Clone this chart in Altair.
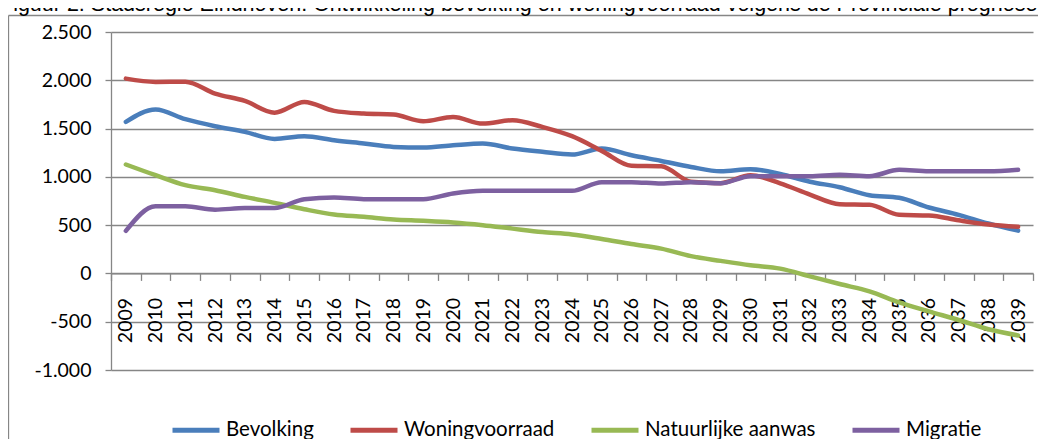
import altair as alt
import pandas as pd

# ---- data ----
years = [str(y) for y in range(2009, 2040)]
bevolking = [1569, 1697, 1597, 1524, 1466, 1393, 1421, 1379, 1345, 1310, 1303,
             1327, 1345, 1293, 1259, 1231, 1293, 1224, 1165, 1103, 1058, 1080,
             1030, 950, 893, 810, 783, 683, 607, 517, 443]
woningvoorraad = [2017, 1983, 1985, 1862, 1786, 1665, 1776, 1683, 1655, 1645, 1576,
                  1620, 1552, 1586, 1517, 1421, 1269, 1115, 1110, 950, 935, 1017,
                  933, 817, 717, 710, 607, 600, 550, 507, 483]
natuurlijke_aanwas = [1128, 1017, 914, 862, 793, 731, 665, 610, 586, 558, 545,
                      528, 500, 464, 429, 404, 357, 304, 257, 179, 130, 85,
                      50, -30, -110, -185, -300, -393, -482, -578, -642]
migratie = [441, 695, 695, 660, 677, 677, 769, 786, 769, 769, 769,
            828, 855, 855, 855, 855, 945, 945, 931, 945, 933, 1007,
            1007, 1007, 1023, 1007, 1073, 1057, 1057, 1057, 1073]

series_names = ["Bevolking", "Woningvoorraad", "Natuurlijke aanwas", "Migratie"]
series_colors = ["#4A7EBB", "#BE4B48", "#98B954", "#7D60A0"]
y_ticks = [-1000, -500, 0, 500, 1000, 1500, 2000, 2500]
title_text = ("Figuur 2: Stadsregio Eindhoven: Ontwikkeling bevolking en "
              "woningvoorraad volgens de Provinciale prognose")

rows = []
for name, vals in zip(series_names,
                      [bevolking, woningvoorraad, natuurlijke_aanwas, migratie]):
    for yr, v in zip(years, vals):
        rows.append({"jaar": yr, "serie": name, "waarde": v})
df = pd.DataFrame(rows)

W, H = 922, 338
GRAY = "#868686"
FONT = "Lato"
FS = 19.5

lines = alt.Chart(df).mark_line(
    interpolate="monotone", strokeWidth=4.5, strokeCap="round", strokeJoin="round"
).encode(
    x=alt.X("jaar:O", sort=years,
            scale=alt.Scale(type="band", paddingInner=0, paddingOuter=0),
            axis=alt.Axis(title=None, labelAngle=270, tickBand="extent",
                          offset=-96.6, grid=False, domainColor=GRAY,
                          tickColor=GRAY, tickSize=7, tickWidth=1.3,
                          domainWidth=1.3, labelPadding=17, labelFont=FONT,
                          labelFontSize=FS, labelColor="black")),
    y=alt.Y("waarde:Q",
            scale=alt.Scale(domain=[-1000, 2500], nice=False, zero=False),
            axis=alt.Axis(title=None, values=y_ticks, grid=True, gridColor=GRAY,
                          gridWidth=1.3, domainColor=GRAY, domainWidth=1.3,
                          tickColor=GRAY, tickWidth=1.3, tickSize=6,
                          labelPadding=14, labelFont=FONT, labelFontSize=FS,
                          labelColor="black",
                          labelExpr="replace(replace(format(datum.value, ','), ',', '.'), '\u2212', '-')")),
    color=alt.Color("serie:N",
                    scale=alt.Scale(domain=series_names, range=series_colors),
                    legend=alt.Legend(orient="none", legendX=59, legendY=372,
                                      direction="horizontal", columns=4,
                                      title=None, symbolType="stroke",
                                      symbolStrokeWidth=5, symbolSize=2209,
                                      labelFont=FONT, labelFontSize=20.5,
                                      labelColor="black", labelLimit=400,
                                      labelOffset=4, columnPadding=26)),
)

one = pd.DataFrame({"t": [title_text]})

title = alt.Chart(one).mark_text(
    align="left", baseline="alphabetic", font="Liberation Sans",
    fontSize=21.5, color="black"
).encode(x=alt.value(-111), y=alt.value(-21), text="t:N")

border_top = alt.Chart(one).mark_rule(color=GRAY, strokeWidth=1.3).encode(
    x=alt.value(-102.5), x2=alt.value(W + 60), y=alt.value(-16.5))
border_left = alt.Chart(one).mark_rule(color=GRAY, strokeWidth=1.3).encode(
    x=alt.value(-102.5), y=alt.value(-16.5), y2=alt.value(H + 120))

chart = alt.layer(border_top, border_left, lines, title).properties(
    width=W, height=H,
    padding={"left": 103, "top": 24, "right": 5, "bottom": 69},
    autosize="none",
).configure_view(stroke=None)

chart.save("out.html", embed_options={"renderer": "svg", "actions": False})
